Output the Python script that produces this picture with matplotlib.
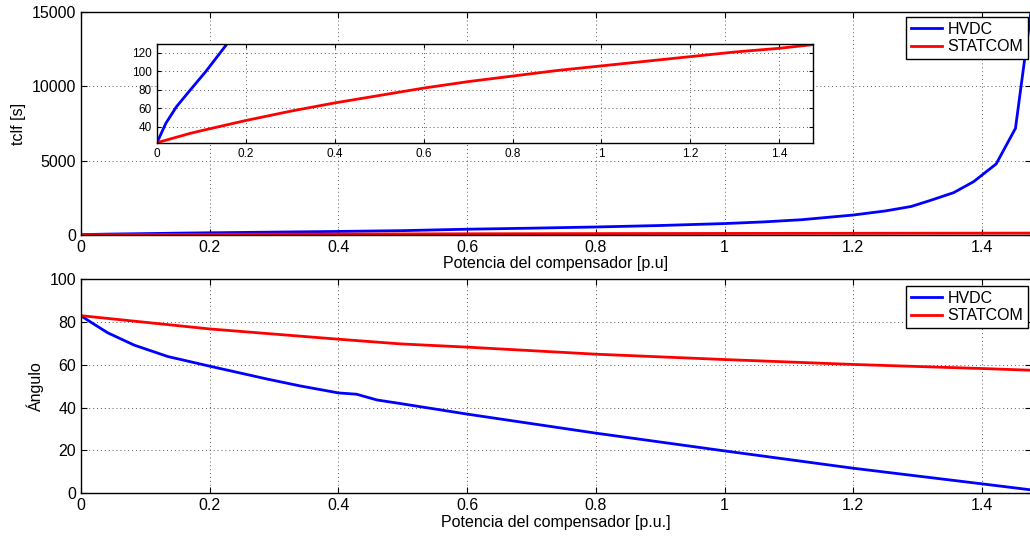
import numpy as np
import matplotlib
matplotlib.use("Agg")
import matplotlib.pyplot as plt

plt.rcParams['font.family'] = ['Liberation Sans', 'DejaVu Sans']

# tiempo critico (tclf) vs potencia del compensador
p_hvdc_t = [0, 0.02, 0.044, 0.075, 0.11, 0.158, 0.2, 0.3, 0.4, 0.5, 0.6, 0.7, 0.8,
            0.9, 1.0, 1.06, 1.12, 1.2, 1.25, 1.29, 1.32, 1.356, 1.387, 1.422, 1.452, 1.476]
tclf_hvdc = [23, 44, 62, 80, 100, 130, 150, 195, 240, 295, 390, 460, 540,
             640, 770, 880, 1030, 1345, 1620, 1920, 2330, 2850, 3590, 4780, 7180, 15000]

p_stat_t = [0, 0.074, 0.1, 0.2, 0.3, 0.4, 0.5, 0.6, 0.7, 0.8, 0.9, 1.0, 1.1, 1.2, 1.3, 1.4, 1.476]
tclf_stat = [23, 33, 36, 47, 57, 66, 74, 82, 89, 95, 101, 106, 111, 116, 121, 125, 129]

# angulo vs potencia del compensador
p_hvdc_a = [0, 0.01, 0.0415, 0.083, 0.135, 0.2, 0.289, 0.34, 0.4, 0.428, 0.46, 0.497,
            0.6, 0.8, 1.0, 1.2, 1.4, 1.476]
ang_hvdc = [83, 81, 75, 69.2, 63.9, 59.4, 53.4, 50.2, 46.9, 46.3, 43.6, 41.9,
            37, 28.1, 19.8, 11.7, 4.4, 1.6]

p_stat_a = [0, 0.2, 0.4, 0.497, 0.6, 0.8, 1.0, 1.2, 1.4, 1.476]
ang_stat = [83, 76.8, 72, 69.8, 68.3, 65, 62.5, 60.2, 58.3, 57.5]

xticks = [0, 0.2, 0.4, 0.6, 0.8, 1, 1.2, 1.4]
xticklabels = ['0', '0.2', '0.4', '0.6', '0.8', '1', '1.2', '1.4']
xmax = 1.476

fig = plt.figure(figsize=(10.3, 5.42), dpi=100)


def style(ax, fs):
    ax.grid(True, linestyle=(0, (1, 3)), color='0.35', linewidth=0.7)
    ax.tick_params(direction='in', top=True, right=True, length=4, width=0.8,
                   labelsize=fs, colors='black')
    for s in ax.spines.values():
        s.set_linewidth(1.0)
    ax.set_xticks(xticks)
    ax.set_xticklabels(xticklabels)
    ax.set_xlim(0, xmax)


leg_kw = dict(loc='upper right', borderaxespad=0, fancybox=False,
              edgecolor='black', framealpha=1, fontsize=11.5, handlelength=2.0,
              labelspacing=0.15, borderpad=0.3, handletextpad=0.3)

# grafico superior
ax1 = fig.add_axes([0.0786, 0.5664, 0.9223, 0.4114])
ax1.plot(p_hvdc_t, tclf_hvdc, color='blue', lw=2.0, label='HVDC')
ax1.plot(p_stat_t, tclf_stat, color='red', lw=2.0, label='STATCOM')
style(ax1, 11.5)
ax1.set_ylim(0, 15000)
ax1.set_yticks([0, 5000, 10000, 15000])
ax1.set_ylabel('tclf [s]', fontsize=11.5)
ax1.set_xlabel('Potencia del compensador [p.u]', fontsize=11.5, labelpad=1)
ax1.legend(bbox_to_anchor=(1 - 3 / 950, 1 - 5 / 223), **leg_kw)

# detalle (inset)
ax3 = fig.add_axes([0.1524, 0.7362, 0.6369, 0.1827])
ax3.plot(p_hvdc_t, tclf_hvdc, color='blue', lw=2.0)
ax3.plot(p_stat_t, tclf_stat, color='red', lw=2.0)
style(ax3, 8.5)
ax3.set_ylim(22.7, 129.7)
ax3.set_yticks([40, 60, 80, 100, 120])
ax3.tick_params(length=3)

# grafico inferior
ax2 = fig.add_axes([0.0786, 0.0899, 0.9223, 0.3948])
ax2.plot(p_hvdc_a, ang_hvdc, color='blue', lw=2.0, label='HVDC')
ax2.plot(p_stat_a, ang_stat, color='red', lw=2.0, label='STATCOM')
style(ax2, 11.5)
ax2.set_ylim(0, 100)
ax2.set_yticks([0, 20, 40, 60, 80, 100])
ax2.set_ylabel('Ángulo', fontsize=11.5)
ax2.set_xlabel('Potencia del compensador [p.u.]', fontsize=11.5, labelpad=1)
ax2.legend(bbox_to_anchor=(1 - 3 / 950, 1 - 7 / 214), **leg_kw)

fig.savefig('out.png', dpi=100)
